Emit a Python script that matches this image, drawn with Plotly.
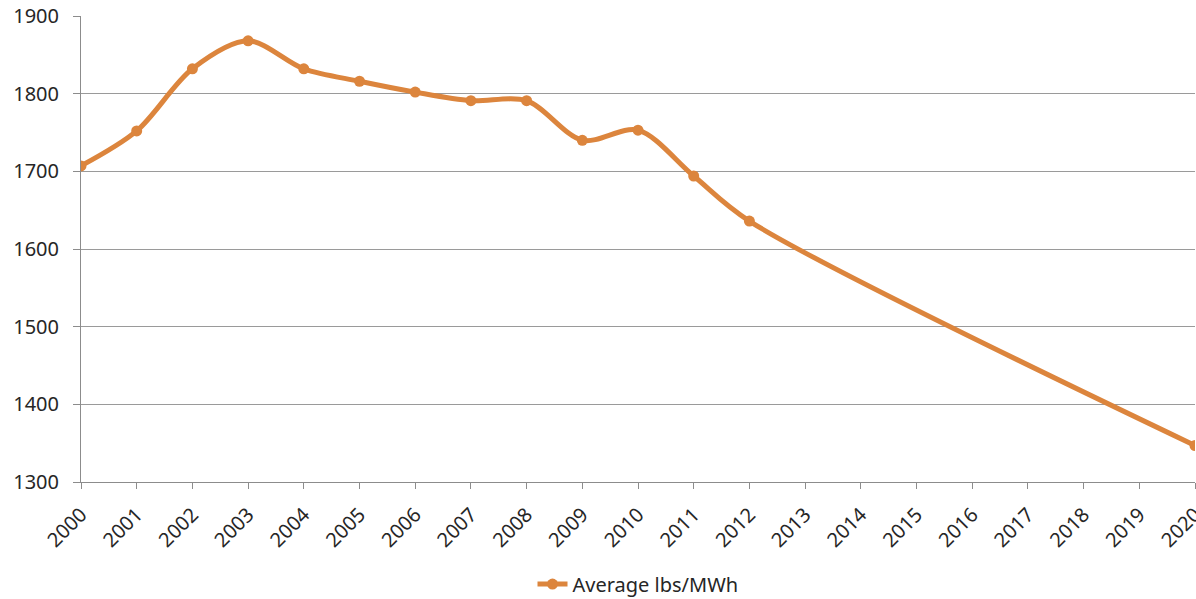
import plotly.graph_objects as go

years = [2000, 2001, 2002, 2003, 2004, 2005, 2006, 2007, 2008, 2009, 2010, 2011, 2012, 2020]
avg_lbs_mwh = [1707, 1752, 1832, 1868, 1832, 1816, 1802, 1791, 1791, 1740, 1753, 1694, 1636, 1347]
series_name = "Average lbs/MWh"
y_ticks = [1300, 1400, 1500, 1600, 1700, 1800, 1900]
x_ticks = list(range(2000, 2021))

color = "#DC853D"
font_family = "Noto Sans, Open Sans, sans-serif"

fig = go.Figure()
fig.add_trace(go.Scatter(
    x=years, y=avg_lbs_mwh, name=series_name,
    mode="lines+markers",
    line=dict(color=color, width=5, shape="spline", smoothing=0.9),
    marker=dict(color=color, size=11),
    showlegend=True,
))

fig.update_layout(
    width=1196, height=599,
    margin=dict(l=81, r=1, t=16, b=117, autoexpand=False),
    paper_bgcolor="white", plot_bgcolor="white",
    font=dict(family=font_family, size=20, color="#262626"),
    showlegend=True,
    legend=dict(orientation="h", x=0.5, xanchor="center", y=-0.219, yanchor="middle",
                font=dict(size=20, color="#262626")),
    xaxis=dict(range=[2000, 2020], tickvals=x_ticks, ticktext=[str(v) for v in x_ticks],
               tickangle=-45, showgrid=False, showline=True, linecolor="#8c8c8c", linewidth=1,
               ticks="outside", ticklen=6, tickcolor="#8c8c8c", zeroline=False,
               tickfont=dict(size=20), automargin=False, ticklabeloverflow="allow",
               ticklabelstandoff=6),
    yaxis=dict(range=[1300, 1900], tickvals=y_ticks, showgrid=True, gridcolor="#9a9a9a", gridwidth=1,
               showline=True, linecolor="#8c8c8c", linewidth=1, ticks="outside", ticklen=7,
               tickcolor="#8c8c8c", zeroline=False, tickfont=dict(size=20), ticklabelstandoff=10,
               automargin=False),
)

fig.write_html("out.html")
